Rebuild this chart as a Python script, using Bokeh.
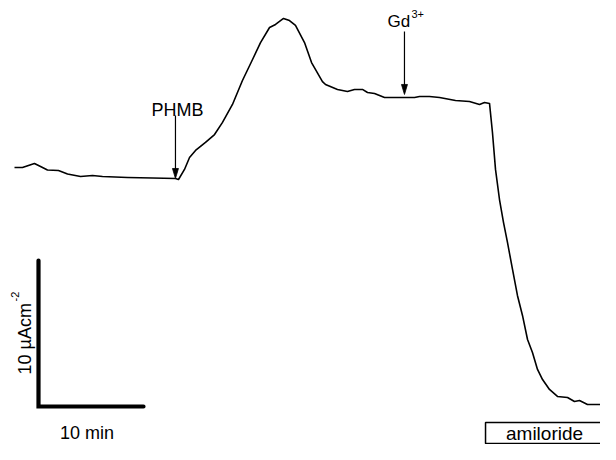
import numpy as np
from bokeh.plotting import figure
from bokeh.models import Range1d
from bokeh.core.properties import value
from bokeh.embed import file_html
from bokeh.resources import INLINE

# ---- data: short-circuit current trace (time in min, current in uA/cm^2, relative) ----
time_min = [0.00, 0.76, 1.90, 2.48, 3.14, 4.19, 5.05, 6.29, 7.43, 8.38,
            10.76, 13.14, 15.33, 15.62, 16.19, 16.67, 17.24, 18.19, 19.05, 19.81,
            20.76, 21.71, 22.67, 23.43, 24.29, 24.86, 25.62, 26.19, 26.76, 27.62,
            28.29, 29.33, 29.62, 30.76, 31.71, 32.38, 33.14, 33.62, 34.29, 35.24,
            37.14, 38.10, 38.57, 39.52, 40.48, 42.00, 43.33, 44.29, 44.76, 45.24,
            45.52, 45.81, 46.19, 46.57, 46.95, 47.43, 47.90, 48.38, 48.86, 49.33,
            49.81, 50.29, 50.95, 51.71, 52.67, 53.33, 53.81, 54.57, 56.67]
current = [16.23, 16.23, 16.51, 16.30, 16.06, 16.03, 15.79, 15.62, 15.68, 15.62,
           15.55, 15.51, 15.48, 15.41, 16.10, 16.92, 17.40, 17.95, 18.49, 19.32,
           20.55, 22.19, 23.63, 24.79, 25.82, 26.03, 26.44, 26.30, 25.96, 24.79,
           23.42, 22.12, 21.92, 21.58, 21.44, 21.58, 21.58, 21.37, 21.30, 21.03,
           21.03, 21.03, 21.10, 21.10, 21.03, 20.82, 20.75, 20.55, 20.68, 20.62,
           18.63, 16.10, 14.04, 12.47, 11.10, 9.25, 7.47, 6.10, 4.45, 3.56,
           2.40, 1.71, 1.03, 0.55, 0.48, 0.21, 0.27, 0.00, 0.00]

event_labels = ["PHMB", "Gd"]
event_sup = ["", "3+"]
event_time = [15.33, 37.14]
amiloride_start = 44.86
scale_time = 10      # min
scale_current = 10   # uA/cm^2

# ---- layout constants ----
W, H = 600, 444
PX_MIN = 10.5        # pixels per minute
PX_UA = 14.6         # pixels per uA/cm^2
x_start = -14 / PX_MIN
y_start = -40 / PX_UA

def dx(px):
    return px / PX_MIN

def dy(px):
    return px / PX_UA

FONT = value("Liberation Sans")

p = figure(width=W, height=H, output_backend="svg", toolbar_location=None,
           x_range=Range1d(x_start, x_start + dx(W)),
           y_range=Range1d(y_start, y_start + dy(H)),
           min_border=0, background_fill_color="white",
           border_fill_color="white")
p.axis.visible = False
p.grid.visible = False
p.outline_line_color = None

# trace
p.line(time_min, current, line_color="black", line_width=1.6, line_join="round")

# event arrows
gaps = [0.0, dy(3)]
for lab, sup, t, g in zip(event_labels, event_sup, event_time, gaps):
    tip = float(np.interp(t, time_min, current)) + g
    tail = tip + dy(63)
    p.segment(x0=[t], y0=[tail], x1=[t], y1=[tip + dy(6)], line_color="black", line_width=1.2)
    p.patch([t, t - dx(3), t + dx(3)], [tip, tip + dy(10), tip + dy(10)],
            fill_color="black", line_color="black", line_width=0.8)
    if sup:
        p.text(x=[t - dx(17)], y=[tail + dy(10)], text=[lab], text_font=FONT,
               text_font_size="17px", text_align="left", text_baseline="alphabetic",
               text_color="black")
        p.text(x=[t + dx(7)], y=[tail + dy(17.5)], text=[sup], text_font=FONT,
               text_font_size="11px", text_align="left", text_baseline="alphabetic",
               text_color="black")
    else:
        p.text(x=[t + dx(2)], y=[tail + dy(5)], text=[lab], text_font=FONT,
               text_font_size="18px", text_align="center", text_baseline="alphabetic",
               text_color="black")

# scale bars
sb_t0 = dx(24)
sb_i0 = -dy(2)
p.line([sb_t0, sb_t0, sb_t0 + scale_time],
       [sb_i0 + scale_current, sb_i0, sb_i0],
       line_color="black", line_width=4.2, line_join="miter", line_cap="round")
p.text(x=[sb_t0 + scale_time / 2 - dx(4)], y=[sb_i0 - dy(26)], text=["%d min" % scale_time],
       text_font=FONT, text_font_size="18px", text_align="center",
       text_baseline="alphabetic", text_color="black")
p.text(x=[sb_t0 - dx(14)], y=[sb_i0 + dy(32)], text=["%d \u00b5Acm" % scale_current],
       text_font=FONT, text_font_size="18px", text_align="left",
       text_baseline="alphabetic", angle=np.pi / 2, text_color="black")
p.text(x=[sb_t0 - dx(24)], y=[sb_i0 + dy(105)], text=["-2"],
       text_font=FONT, text_font_size="11px", text_align="left",
       text_baseline="alphabetic", angle=np.pi / 2, text_color="black")

# amiloride bar
box_top = -dy(18)
box_bot = -dy(39)
p.quad(left=[amiloride_start], right=[amiloride_start + 20], top=[box_top], bottom=[box_bot],
       fill_color=None, line_color="black", line_width=1.5)
p.text(x=[amiloride_start + dx(59)], y=[(box_top + box_bot) / 2], text=["amiloride"],
       text_font=FONT, text_font_size="19px", text_align="center",
       text_baseline="middle", text_color="black")

open("out.html", "w").write(file_html(p, INLINE))
